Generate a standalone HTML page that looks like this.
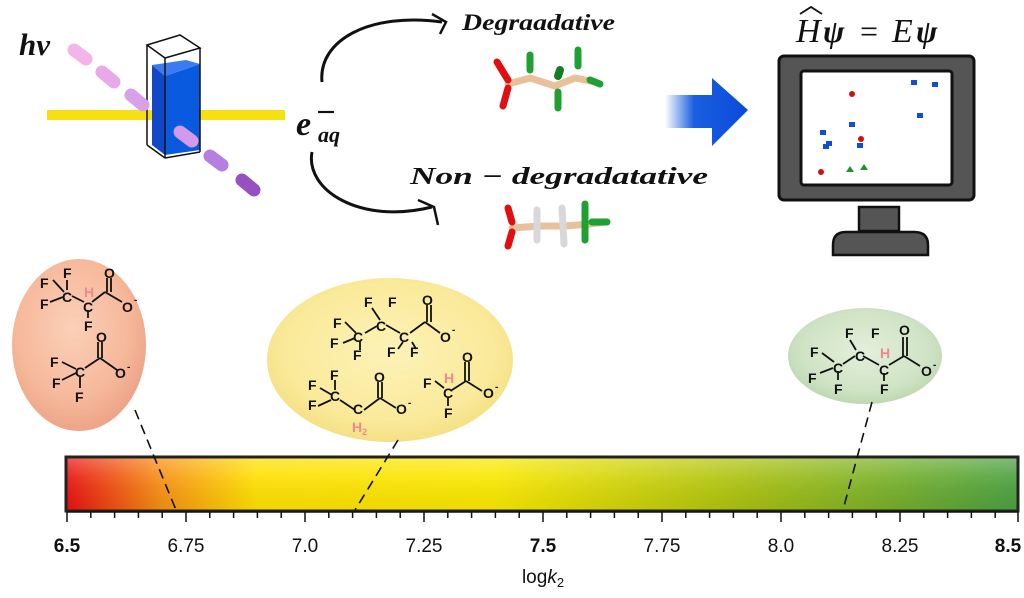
<!DOCTYPE html>
<html><head><meta charset="utf-8"><style>
html,body{margin:0;padding:0;background:#fff;width:1024px;height:598px;overflow:hidden}
svg{display:block}
.a{font-family:"Liberation Sans",sans-serif;font-weight:bold;font-size:14px;fill:#111}
.h{fill:#f08a8a}
.b{stroke:#111;stroke-width:1.8;fill:none}
.m{font-family:"Liberation Serif","DejaVu Serif",serif;font-weight:bold;font-style:italic;fill:#111}
.t{font-family:"Liberation Sans",sans-serif;font-size:19px;fill:#111}
</style></head><body>
<svg width="1024" height="598" viewBox="0 0 1024 598" xmlns="http://www.w3.org/2000/svg">
<defs>
<linearGradient id="bar" x1="0" x2="1">
<stop offset="0" stop-color="#e81010"/><stop offset="0.1" stop-color="#f79012"/><stop offset="0.2" stop-color="#ffe000"/><stop offset="0.45" stop-color="#fae800"/><stop offset="0.72" stop-color="#a8c010"/><stop offset="1" stop-color="#4aa040"/>
</linearGradient>
<linearGradient id="barhl" x1="0" y1="0" x2="0" y2="1">
<stop offset="0" stop-color="#fff" stop-opacity="0.3"/><stop offset="0.35" stop-color="#fff" stop-opacity="0.1"/><stop offset="1" stop-color="#000" stop-opacity="0.05"/>
</linearGradient>
<radialGradient id="pk" cx="0.45" cy="0.4" r="0.6"><stop offset="0" stop-color="#fbd0b8"/><stop offset="0.7" stop-color="#f6b89a"/><stop offset="1" stop-color="#eda487"/></radialGradient>
<radialGradient id="yl" cx="0.5" cy="0.45" r="0.6"><stop offset="0" stop-color="#fdf2b8"/><stop offset="0.7" stop-color="#faea9a"/><stop offset="1" stop-color="#f2dc7e"/></radialGradient>
<radialGradient id="gr" cx="0.5" cy="0.45" r="0.6"><stop offset="0" stop-color="#e4efdc"/><stop offset="0.7" stop-color="#cfe3c4"/><stop offset="1" stop-color="#b8d3aa"/></radialGradient>
<linearGradient id="ba" x1="0" x2="1"><stop offset="0" stop-color="#1a5fe0" stop-opacity="0"/><stop offset="0.35" stop-color="#1a5fe0"/><stop offset="1" stop-color="#0a4ad8"/></linearGradient>
</defs>

<text x="19" y="55" class="m" font-size="31">hv</text>
<rect x="47" y="110" width="238" height="10" fill="#f7e012"/>
<polygon points="152,65 165,76 165,155 152,145" fill="#1248c8"/>
<polygon points="165,76 200,64 200,150 165,155" fill="#0a5ae0"/>
<polygon points="152,65 186,60 200,64 165,76" fill="#3a7cf0"/>
<g stroke="#111" stroke-width="1.5" fill="none">
<polygon points="147,45 180,35 200,48 165,58"/>
<line x1="147" y1="45" x2="147" y2="145"/><line x1="165" y1="58" x2="165" y2="158"/><line x1="200" y1="48" x2="200" y2="152"/>
<line x1="147" y1="145" x2="165" y2="158"/><line x1="165" y1="158" x2="200" y2="152"/>
</g>
<g stroke-linecap="round">
<line x1="74" y1="50" x2="86" y2="59" stroke="#f3b4ea" stroke-width="13"/>
<line x1="102" y1="72" x2="114" y2="82" stroke="#e8a8ea" stroke-width="13"/>
<line x1="131" y1="95" x2="143" y2="105" stroke="#d8a0e8" stroke-width="13"/>
<line x1="180" y1="132" x2="192" y2="141" stroke="#d29ae8" stroke-width="13"/>
<line x1="210" y1="156" x2="222" y2="165" stroke="#b57ee0" stroke-width="13"/>
<line x1="242" y1="180" x2="254" y2="190" stroke="#9650c0" stroke-width="13"/>
</g>
<text x="296" y="135" class="m" font-size="34">e</text>
<text x="318" y="142" class="m" font-size="22">aq</text>
<line x1="318" y1="112" x2="334" y2="112" stroke="#111" stroke-width="2.2"/>
<path d="M322,82 C318,40 370,12 442,22" stroke="#111" stroke-width="3" fill="none"/>
<path d="M432,14 L446,22 L440,34" stroke="#111" stroke-width="2.5" fill="none"/>
<path d="M312,152 C305,190 360,225 432,207" stroke="#111" stroke-width="3" fill="none"/>
<path d="M418,200 L434,207 L438,225" stroke="#111" stroke-width="2.5" fill="none"/>
<text x="462" y="30" class="m" font-size="23" textLength="153" lengthAdjust="spacingAndGlyphs">Degraadative</text>
<text x="410" y="184" class="m" font-size="24" textLength="298" lengthAdjust="spacingAndGlyphs">Non − degradatative</text>
<g stroke-linecap="round" fill="none">
<path d="M508,84 L530,78 L555,86 L575,78 L595,82" stroke="#e8c09a" stroke-width="7"/>
<line x1="497" y1="62" x2="508" y2="80" stroke="#e01010" stroke-width="7"/>
<line x1="508" y1="88" x2="503" y2="106" stroke="#e01010" stroke-width="7"/>
<line x1="530" y1="55" x2="530" y2="70" stroke="#20a030" stroke-width="7"/>
<line x1="560" y1="70" x2="558" y2="76" stroke="#108020" stroke-width="8"/>
<line x1="558" y1="92" x2="558" y2="108" stroke="#20a030" stroke-width="7"/>
<line x1="578" y1="50" x2="578" y2="66" stroke="#20a030" stroke-width="7"/>
<line x1="590" y1="80" x2="600" y2="84" stroke="#20a030" stroke-width="7"/>
<path d="M512,228 L540,226 L565,226 L590,224 L605,222" stroke="#e8c09a" stroke-width="7"/>
<line x1="508" y1="208" x2="512" y2="222" stroke="#e01010" stroke-width="7"/>
<line x1="512" y1="232" x2="508" y2="246" stroke="#e01010" stroke-width="7"/>
<line x1="537" y1="210" x2="537" y2="240" stroke="#d8d8d8" stroke-width="7"/>
<line x1="562" y1="208" x2="564" y2="244" stroke="#d8d8d8" stroke-width="7"/>
<line x1="585" y1="204" x2="585" y2="240" stroke="#20a030" stroke-width="7"/>
<line x1="592" y1="222" x2="607" y2="222" stroke="#20a030" stroke-width="7"/>
</g>
<polygon points="665,95 712,95 712,78 748,110 712,146 712,128 665,128" fill="url(#ba)"/>
<text x="796" y="42" font-family="Liberation Serif,serif" font-style="italic" font-size="34" fill="#111">H</text>
<path d="M800,14 L811,7 L822,14" stroke="#111" stroke-width="1.8" fill="none"/>
<text x="823" y="42" class="m" font-size="32">ψ</text>
<text x="860" y="42" font-family="Liberation Serif,serif" font-size="32" fill="#111">=</text>
<text x="892" y="42" font-family="Liberation Serif,serif" font-style="italic" font-size="34" fill="#111">E</text>
<text x="916" y="42" class="m" font-size="32">ψ</text>
<rect x="779" y="56" width="195" height="144" rx="5" fill="#555" stroke="#111" stroke-width="3"/>
<rect x="801" y="71" width="151" height="114" rx="3" fill="#fff" stroke="#111" stroke-width="3"/>
<rect x="859" y="207" width="40" height="24" fill="#555" stroke="#111" stroke-width="2.5"/>
<path d="M833,255 L833,245 Q833,232 846,232 L914,232 Q928,232 928,245 L928,255 Z" fill="#555" stroke="#111" stroke-width="2.5"/>
<g fill="#1050d0">
<rect x="911" y="80" width="6" height="5"/><rect x="932" y="82" width="6" height="5"/><rect x="917" y="113" width="6" height="5"/>
<rect x="849" y="122" width="6" height="5"/><rect x="820" y="130" width="6" height="5"/><rect x="826" y="141" width="6" height="5"/><rect x="823" y="144" width="6" height="5"/><rect x="857" y="143" width="6" height="5"/>
</g>
<g fill="#d01010"><circle cx="852" cy="94" r="3"/><circle cx="861" cy="139" r="3"/><circle cx="821" cy="172" r="3"/></g>
<g fill="#209030"><polygon points="850,166 854,172 846,172"/><polygon points="864,164 868,170 860,170"/></g>

<ellipse cx="79" cy="345" rx="67" ry="86" fill="url(#pk)"/>
<ellipse cx="390" cy="360" rx="123" ry="82" fill="url(#yl)"/>
<ellipse cx="865" cy="356" rx="77" ry="48" fill="url(#gr)"/>

<g class="b">
<line x1="53" y1="280" x2="64" y2="292"/><line x1="50" y1="302" x2="63" y2="297"/><line x1="67" y1="280" x2="67" y2="290"/>
<line x1="72" y1="296" x2="84" y2="302"/><line x1="92" y1="302" x2="105" y2="292"/><line x1="105" y1="292" x2="122" y2="302"/>
<line x1="107" y1="278" x2="107" y2="292"/><line x1="111" y1="278" x2="111" y2="292"/><line x1="88" y1="310" x2="88" y2="318"/>
<line x1="62" y1="362" x2="76" y2="369"/><line x1="62" y1="380" x2="76" y2="373"/><line x1="80" y1="377" x2="80" y2="388"/>
<line x1="85" y1="368" x2="100" y2="358"/><line x1="100" y1="358" x2="117" y2="370"/><line x1="98" y1="342" x2="98" y2="358"/><line x1="102" y1="342" x2="102" y2="358"/>
</g>
<g class="a">
<text x="40" y="288">F</text><text x="63" y="278">F</text><text x="62" y="302">C</text><text x="40" y="309">F</text>
<text x="84" y="297" class="a h">H</text><text x="83" y="312">C</text><text x="84" y="331">F</text>
<text x="104" y="278">O</text><text x="122" y="312">O</text><text x="134" y="303" font-size="10">-</text>
<text x="96" y="342">O</text><text x="50" y="367">F</text><text x="75" y="377">C</text><text x="52" y="388">F</text><text x="75" y="402">F</text>
<text x="115" y="378">O</text><text x="127" y="370" font-size="10">-</text>
</g>

<g class="b">
<line x1="345" y1="322" x2="356" y2="333"/><line x1="343" y1="343" x2="355" y2="338"/><line x1="360" y1="341" x2="360" y2="350"/>
<line x1="365" y1="333" x2="377" y2="326"/><line x1="372" y1="308" x2="380" y2="320"/>
<line x1="386" y1="325" x2="400" y2="333"/><line x1="410" y1="333" x2="425" y2="322"/><line x1="425" y1="322" x2="440" y2="333"/>
<line x1="427" y1="305" x2="427" y2="322"/><line x1="431" y1="305" x2="431" y2="322"/>
<line x1="398" y1="349" x2="403" y2="342"/><line x1="412" y1="342" x2="416" y2="349"/>
<line x1="320" y1="388" x2="332" y2="395"/><line x1="318" y1="406" x2="331" y2="400"/><line x1="335" y1="380" x2="335" y2="390"/>
<line x1="340" y1="400" x2="355" y2="410"/><line x1="364" y1="410" x2="380" y2="398"/><line x1="380" y1="398" x2="396" y2="408"/>
<line x1="378" y1="382" x2="378" y2="398"/><line x1="382" y1="382" x2="382" y2="398"/>
<line x1="435" y1="381" x2="444" y2="388"/><line x1="452" y1="390" x2="466" y2="381"/><line x1="466" y1="381" x2="482" y2="391"/>
<line x1="465" y1="362" x2="465" y2="381"/><line x1="469" y1="362" x2="469" y2="381"/><line x1="448" y1="398" x2="448" y2="406"/>
</g>
<g class="a">
<text x="364" y="307">F</text><text x="388" y="307">F</text><text x="422" y="305">O</text>
<text x="333" y="328">F</text><text x="353" y="342">C</text><text x="376" y="331">C</text><text x="399" y="342">C</text>
<text x="330" y="348">F</text><text x="353" y="360">F</text><text x="387" y="357">F</text><text x="410" y="357">F</text>
<text x="440" y="342">O</text><text x="452" y="333" font-size="10">-</text>
<text x="330" y="380">F</text><text x="308" y="390">F</text><text x="330" y="401">C</text><text x="308" y="410">F</text>
<text x="353" y="414">C</text><text x="352" y="432" class="a h" font-size="13">H<tspan font-size="9" dy="3">2</tspan></text>
<text x="374" y="382">O</text><text x="396" y="414">O</text><text x="408" y="406" font-size="10">-</text>
<text x="462" y="362">O</text><text x="423" y="388">F</text><text x="444" y="383" class="a h">H</text><text x="443" y="398">C</text>
<text x="483" y="398">O</text><text x="495" y="390" font-size="10">-</text><text x="444" y="418">F</text>
</g>

<g class="b">
<line x1="822" y1="353" x2="834" y2="362"/><line x1="820" y1="373" x2="833" y2="368"/><line x1="838" y1="371" x2="838" y2="380"/>
<line x1="843" y1="364" x2="855" y2="356"/><line x1="850" y1="340" x2="856" y2="350"/>
<line x1="863" y1="356" x2="879" y2="365"/><line x1="889" y1="365" x2="904" y2="356"/><line x1="904" y1="356" x2="920" y2="366"/>
<line x1="903" y1="337" x2="903" y2="356"/><line x1="907" y1="337" x2="907" y2="356"/><line x1="884" y1="373" x2="884" y2="381"/>
</g>
<g class="a">
<text x="845" y="338">F</text><text x="871" y="338">F</text><text x="899" y="335">O</text>
<text x="810" y="357">F</text><text x="833" y="373">C</text><text x="855" y="361">C</text>
<text x="880" y="358" class="a h">H</text><text x="879" y="375">C</text><text x="921" y="376">O</text><text x="933" y="368" font-size="10">-</text>
<text x="808" y="383">F</text><text x="834" y="394">F</text><text x="880" y="394">F</text>
</g>

<rect x="66" y="457" width="952" height="54" fill="url(#bar)"/>
<rect x="66" y="457" width="952" height="54" fill="url(#barhl)"/>
<rect x="66" y="457" width="952" height="54" fill="none" stroke="#222" stroke-width="3"/>

<g stroke="#111" stroke-width="1.6" stroke-dasharray="10,6" fill="none">
<line x1="135" y1="410" x2="176" y2="510"/>
<line x1="398" y1="440" x2="355" y2="510"/>
<line x1="872" y1="402" x2="843" y2="510"/>
</g>

<g stroke="#111" stroke-width="1.5">
<line x1="67" y1="512" x2="1018" y2="512"/>
<path d="M67,512v10 M90.8,512v6 M114.6,512v6 M138.4,512v6 M162.2,512v6 M186,512v10 M209.8,512v6 M233.6,512v6 M257.4,512v6 M281.2,512v6 M305,512v10 M328.8,512v6 M352.6,512v6 M376.4,512v6 M400.2,512v6 M424,512v10 M447.8,512v6 M471.6,512v6 M495.4,512v6 M519.2,512v6 M543,512v10 M566.8,512v6 M590.6,512v6 M614.4,512v6 M638.2,512v6 M662,512v10 M685.8,512v6 M709.6,512v6 M733.4,512v6 M757.2,512v6 M781,512v10 M804.8,512v6 M828.6,512v6 M852.4,512v6 M876.2,512v6 M900,512v10 M923.8,512v6 M947.6,512v6 M971.4,512v6 M995.2,512v6 M1018,512v10"/>
</g>
<g class="t" text-anchor="middle">
<text x="67" y="552" font-weight="bold">6.5</text>
<text x="186" y="552">6.75</text>
<text x="305" y="552">7.0</text>
<text x="424" y="552">7.25</text>
<text x="543" y="552" font-weight="bold">7.5</text>
<text x="662" y="552">7.75</text>
<text x="781" y="552">8.0</text>
<text x="900" y="552">8.25</text>
<text x="1008" y="552" font-weight="bold">8.5</text>
<text x="543" y="583">log<tspan font-style="italic">k</tspan><tspan font-size="13" dy="4">2</tspan></text>
</g>
</svg>
</body></html>
